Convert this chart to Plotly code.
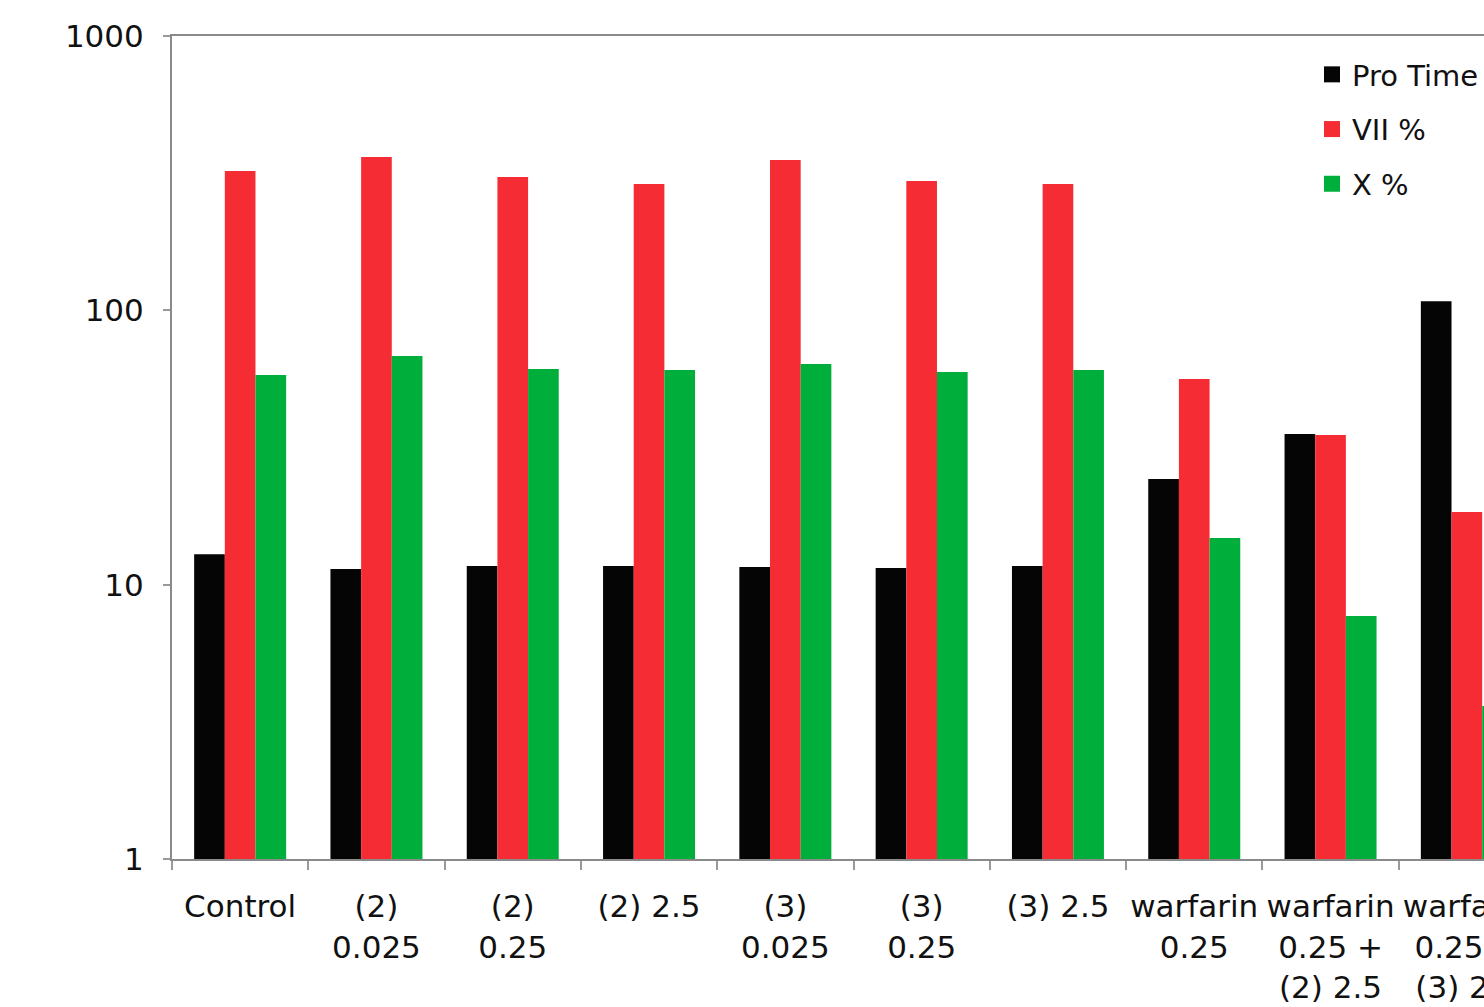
import plotly.graph_objects as go

categories = [
    "Control", "(2)<br>0.025", "(2)<br>0.25", "(2) 2.5", "(3)<br>0.025",
    "(3)<br>0.25", "(3) 2.5", "warfarin<br>0.25", "warfarin<br>0.25 +<br>(2) 2.5",
    "warfarin<br>0.25 +<br>(3) 2.5",
]
pro_time = [12.9, 11.4, 11.7, 11.7, 11.6, 11.5, 11.7, 24.3, 35.4, 108]
vii_pct = [322, 362, 306, 289, 353, 296, 289, 56.2, 35.1, 18.4]
x_pct = [58.1, 68.2, 61.1, 60.6, 63.8, 59.6, 60.6, 14.8, 7.69, 3.61]

series_names = ["Pro Time", "VII %", "X %"]
series_values = [pro_time, vii_pct, x_pct]
colors = ["#050505", "#F52C34", "#00AF3B"]

FONT = "DejaVu Sans, Verdana, sans-serif"

fig = go.Figure()
for name, vals, col in zip(series_names, series_values, colors):
    fig.add_trace(go.Bar(
        x=categories, y=vals, name=name, marker_color=col,
        marker_line_width=0, showlegend=False,
    ))
# legend-only markers (larger square swatches)
for name, col in zip(series_names, colors):
    fig.add_trace(go.Scatter(
        x=[None], y=[None], mode="markers", name=name, legendgroup=name,
        marker=dict(symbol="square", size=23, color=col),
    ))

W, H = 1484, 1007
L, T, B = 172, 36, 148
plot_w = W - L
spacing = 136.3
fig.update_layout(
    width=W, height=H,
    margin=dict(l=L, r=0, t=T, b=B, autoexpand=False),
    paper_bgcolor="white", plot_bgcolor="white",
    barmode="group", bargap=0.325, bargroupgap=0,
    font=dict(family=FONT, size=31, color="#111"),
    legend=dict(
        x=(1312 - L) / plot_w, y=1 - (49 - T) / (H - T - B),
        xanchor="left", yanchor="top",
        bgcolor="rgba(0,0,0,0)", font=dict(size=29, color="#111"),
        tracegroupgap=14, itemwidth=30,
    ),
    xaxis=dict(
        type="category", range=[-0.5, -0.5 + plot_w / spacing],
        showline=True, linecolor="#8a8a8a", linewidth=2, mirror=True,
        ticks="outside", tickson="boundaries", ticklen=9, tickcolor="#9a9a9a",
        tickwidth=1.5, showgrid=False, tickfont=dict(size=31), tickangle=0,
        ticklabelstandoff=19,
    ),
    yaxis=dict(
        type="log", range=[0, 3],
        tickvals=[1, 10, 100, 1000], ticktext=["1", "10", "100", "1000"],
        showline=True, linecolor="#8a8a8a", linewidth=2,
        ticks="outside", ticklen=7, tickcolor="#9a9a9a", tickwidth=1.5,
        showgrid=False, zeroline=False, tickfont=dict(size=31),
        ticklabelstandoff=13,
    ),
)

fig.write_html(
    "out.html",
    config={"displayModeBar": False},
    post_script="document.body.style.margin='0';document.body.style.overflow='hidden';",
)
